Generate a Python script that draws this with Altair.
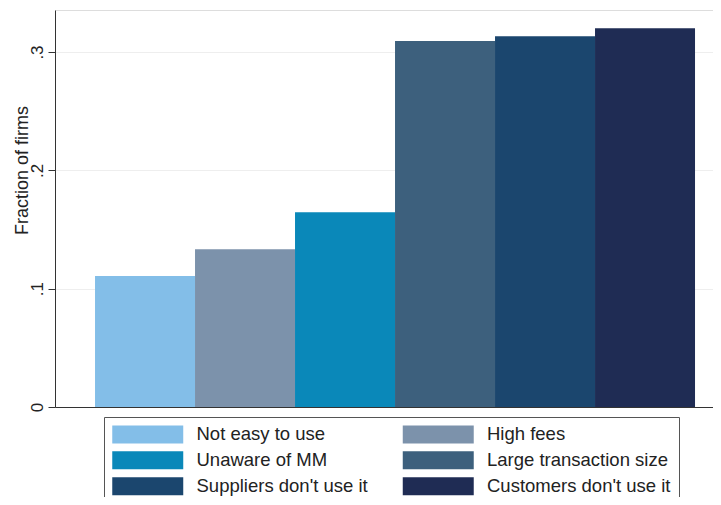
import altair as alt
import pandas as pd

categories = [
    "Not easy to use",
    "High fees",
    "Unaware of MM",
    "Large transaction size",
    "Suppliers don't use it",
    "Customers don't use it",
]
values = [0.1107, 0.1333, 0.1645, 0.3093, 0.3133, 0.3200]
colors = ["#83BEE8", "#7C92AB", "#0A88B9", "#3D607D", "#1B466E", "#1F2C54"]
y_ticks = [0, 0.1, 0.2, 0.3]
# legend is filled column by column: left column first, then right column
legend_order = [
    "Not easy to use",
    "Unaware of MM",
    "Suppliers don't use it",
    "High fees",
    "Large transaction size",
    "Customers don't use it",
]

df = pd.DataFrame({"reason": categories, "fraction": values})

FONT = "Liberation Sans"

chart = (
    alt.Chart(df)
    .mark_bar()
    .encode(
        x=alt.X(
            "reason:N",
            sort=categories,
            scale=alt.Scale(paddingInner=0, paddingOuter=0.29, align=0.69),
            axis=alt.Axis(
                title=None,
                labels=False,
                ticks=False,
                grid=False,
                domain=True,
                domainColor="#333333",
            ),
        ),
        y=alt.Y(
            "fraction:Q",
            scale=alt.Scale(domain=[0, 0.3355], nice=False, zero=True),
            axis=alt.Axis(
                title="Fraction of firms",
                values=y_ticks,
                labelExpr="datum.value == 0 ? '0' : replace(format(datum.value, '.1f'), '0.', '.')",
                labelAngle=270,
                labelAlign="center",
                labelBaseline="alphabetic",
                labelPadding=6,
                labelFont=FONT,
                labelFontSize=17,
                labelColor="#222222",
                tickSize=7,
                tickColor="#333333",
                domainColor="#333333",
                grid=True,
                gridColor="#EEEEEE",
                titleFont=FONT,
                titleFontSize=18,
                titleFontWeight="normal",
                titleColor="#222222",
                titleAngle=270,
                titleAlign="center",
                titleBaseline="alphabetic",
                titleX=-28,
                titleY=160,
            ),
        ),
        color=alt.Color(
            "reason:N",
            sort=categories,
            scale=alt.Scale(domain=categories, range=colors),
            legend=alt.Legend(
                title=None,
                values=legend_order,
                orient="none",
                legendX=49,
                legendY=407,
                columns=2,
                symbolType="M-3.944,-1H3.944V1H-3.944Z",
                symbolSize=324,
                symbolStrokeWidth=0,
                symbolOffset=26.5,
                labelOffset=39.5,
                labelFont=FONT,
                labelFontSize=18.5,
                labelColor="#222222",
                labelLimit=400,
                columnPadding=34.5,
                rowPadding=7,
                padding=8,
                strokeColor="#555555",
            ),
        ),
    )
    .properties(
        width=658,
        height=397,
        autosize=alt.AutoSizeParams(type="none"),
        padding={"left": 47, "top": 2, "right": 0, "bottom": 90},
    )
    .configure_view(stroke=None)
    .configure(background="white")
)

chart.save("out.html", embed_options={"renderer": "svg", "actions": False})
